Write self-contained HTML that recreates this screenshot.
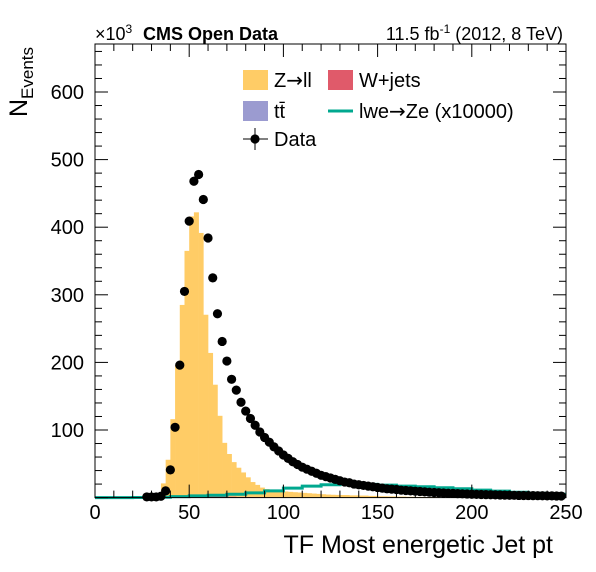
<!DOCTYPE html>
<html><head><meta charset="utf-8"><style>
body{margin:0;background:#fff;}
svg{display:block;font-family:"Liberation Sans",sans-serif;}
</style></head><body>
<svg id="chart" width="596" height="572">
<g id="plot"></g>
<g id="axes"></g>
</svg>
<script>
const dataX=[27.5,30,32.5,35,37.5,40,42.5,45,47.5,50,52.5,55,57.5,60,62.5,65,67.5,70,72.5,75,77.5,80,82.5,85,87.5,90,92.5,95,97.5,100,102.5,105,107.5,110,112.5,115,117.5,120,122.5,125,127.5,130,132.5,135,137.5,140,142.5,145,147.5,150,152.5,155,157.5,160,162.5,165,167.5,170,172.5,175,177.5,180,182.5,185,187.5,190,192.5,195,197.5,200,202.5,205,207.5,210,212.5,215,217.5,220,222.5,225,227.5,230,232.5,235,237.5,240,242.5,245,247.5];
const dataY=[1,1,1,2,10,41,104,196,305,409,468,478,441,384,325,272,231,202,175,159,141,128,117,107,97,89,82,75,69,63,58,53,49,45,42,39,36,33,31,29,27,25,23,22,20,19,18,17,16,15,14,13,12.5,12,11,10.5,10,9.5,9,8.5,8,7.6,7.2,6.9,6.5,6.2,5.9,5.6,5.3,5,4.8,4.6,4.4,4.2,4,3.8,3.7,3.5,3.4,3.2,3.1,3,2.9,2.8,2.7,2.6,2.5,2.4,2.3];
const zllEdges=[35,37.5,40,42.5,45,47.5,50,52.5,55,57.5,60,62.5,65,67.5,70,72.5,75,77.5,80,82.5,85,87.5,90,92.5,95,97.5,100,102.5,105,107.5,110,112.5,115,117.5,120,122.5,125,127.5,130,135,140,145,150,155,160,165,170,175,180];
const zllVals=[21,56,116,196,285,365,415,421,390,269,212,165,119,79,63,51,43,36,29,22,18,14,12,11,10,9.5,9,8.5,8,7.5,7,6.5,6,5.5,5,4.5,4.2,4,3.8,3.3,3,2.5,2,1.8,1.5,1.2,1,0.8,0.6];
const wjEdges=[50,55,60,65,70,75,80,85,90,95];
const wjVals=[1,1.5,2,2,1.5,1.2,1,0.8,0.6,0.4];
const lweEdges=[0,10,20,30,40,50,60,70,80,90,100,110,120,130,140,150,160,170,180,190,200,210,220,230,240];
const lweVals=[0,0,0.1,0.5,1.5,2.5,3.5,5,7,10,14,17,19,20,19.5,18.5,17,16,14.5,13,11,9.5,8,6.5,5];
const xTicks=[0,50,100,150,200,250];
const yTicks=[100,200,300,400,500,600];

const X0=95,X1=566,Y0=497.6,YT=44;
const sx=v=>X0+v*(X1-X0)/250;
const sy=v=>Y0-v*0.676;
const NS="http://www.w3.org/2000/svg";
const plot=document.getElementById('plot'),axes=document.getElementById('axes');
function mk(tag,attrs,parent){const e=document.createElementNS(NS,tag);for(const k in attrs)e.setAttribute(k,attrs[k]);parent.appendChild(e);return e;}
const wjAt=x=>{let v=0;wjEdges.forEach((e,i)=>{if(x>=e&&x<e+5)v=wjVals[i];});return v;};

wjEdges.forEach((x,i)=>{
  const r=mk('rect',{x:sx(x),y:sy(wjVals[i]),width:sx(x+5)-sx(x)+0.3,height:sy(0)-sy(wjVals[i]),fill:'#e05a6a'},plot);
  
  
});
zllEdges.forEach((x,i)=>{
  const bw=(i<zllEdges.length-1?zllEdges[i+1]-x:2.5);
  const b=wjAt(x);
  const r=mk('rect',{x:sx(x),y:sy(b+zllVals[i]),width:sx(x+bw)-sx(x)+0.3,height:sy(b)-sy(b+zllVals[i]),fill:'#ffcc66'},plot);
  
  
});

let d='';
lweEdges.forEach((x,i)=>{const y=sy(lweVals[i]);d+=(i?'L':'M')+sx(x)+','+y+'L'+sx(x+10)+','+y;});
const lp=mk('path',{d:d,fill:'none',stroke:'#00a88f','stroke-width':3},plot);



dataX.forEach((x,i)=>{
  const c=mk('circle',{cx:sx(x),cy:sy(dataY[i]),r:4.6,fill:'#000'},plot);
  
  
});

const fr=mk('rect',{x:X0,y:YT,width:X1-X0,height:Y0-YT,fill:'none',stroke:'#000','stroke-width':1},axes);


for(let v=0;v<=250;v+=10){
  const L=v%50===0?13:7;
  mk('line',{x1:sx(v),x2:sx(v),y1:Y0,y2:Y0-L,stroke:'#000'},axes);
  mk('line',{x1:sx(v),x2:sx(v),y1:YT,y2:YT+L,stroke:'#000'},axes);
}
for(let v=0;v<=660;v+=20){
  const L=v%100===0?13:7;
  mk('line',{x1:X0,x2:X0+L,y1:sy(v),y2:sy(v),stroke:'#000'},axes);
  mk('line',{x1:X1,x2:X1-L,y1:sy(v),y2:sy(v),stroke:'#000'},axes);
}
xTicks.forEach(v=>{
  const t=mk('text',{x:sx(v),y:519,'font-size':20,'text-anchor':'middle'},axes);t.textContent=v;
  
  
});
yTicks.forEach(v=>{
  const t=mk('text',{x:84,y:sy(v)+7,'font-size':20,'text-anchor':'end'},axes);t.textContent=v;
  
  
});
</script>
<svg style="position:absolute;left:0;top:0" width="596" height="572">
<text x="553" y="553" font-size="25" text-anchor="end" font-family="Liberation Sans">TF Most energetic Jet pt</text>
<text transform="translate(27,117) rotate(-90)" font-size="25" font-family="Liberation Sans">N<tspan font-size="17" dy="6">Events</tspan></text>
<text x="95" y="40" font-size="18" font-family="Liberation Sans">×10<tspan font-size="12" dy="-7">3</tspan></text>
<text x="143" y="40" font-size="18" font-weight="bold" font-family="Liberation Sans">CMS Open Data</text>
<text x="563" y="40" font-size="18" text-anchor="end" font-family="Liberation Sans">11.5 fb<tspan font-size="12" dy="-7">-1</tspan><tspan dy="7"> (2012, 8 TeV)</tspan></text>
<g font-family="Liberation Sans, DejaVu Sans, sans-serif" font-size="20">
<rect x="243" y="70" width="25" height="20" fill="#ffcc66"/>
<text x="274" y="87">Z<tspan font-family="DejaVu Sans">→</tspan>ll</text>
<rect x="328" y="70" width="25" height="20" fill="#e05a6a"/>
<text x="359" y="87">W+jets</text>
<rect x="243" y="101" width="25" height="20" fill="#9b9bd0"/>
<text x="274" y="118">tt̄</text>
<line x1="328" x2="353" y1="111" y2="111" stroke="#00a88f" stroke-width="3"/>
<text x="359" y="118">lwe<tspan font-family="DejaVu Sans">→</tspan>Ze (x10000)</text>
<line x1="255" x2="255" y1="128" y2="150" stroke="#000"/>
<line x1="243" x2="268" y1="139" y2="139" stroke="#000"/>
<circle cx="255" cy="139" r="4.6" fill="#000"/>
<text x="274" y="146">Data</text>
</g>
</svg>
</body></html>
